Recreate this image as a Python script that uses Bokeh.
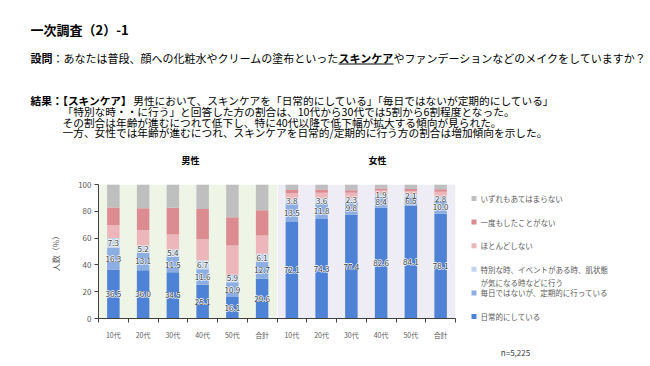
import numpy as np
from bokeh.plotting import figure
from bokeh.models import Range1d, FixedTicker, BoxAnnotation, ColumnDataSource
from bokeh.layouts import column, row
from bokeh.embed import file_html
from bokeh.resources import INLINE
from bokeh.core.properties import value

FONT = "Noto Sans CJK JP"

# ---------------- data ----------------
title_text = "一次調査（2）-1"
question_label = "設問"
question_a = "：あなたは普段、顔への化粧水やクリームの塗布といった"
question_b = "スキンケア"
question_c = "やファンデーションなどのメイクをしていますか？"
result_head = "結果：【スキンケア】"
result_lines = [
    "男性において、スキンケアを「日常的にしている」「毎日ではないが定期的にしている」",
    "「特別な時・・に行う」と回答した方の割合は、10代から30代では5割から6割程度となった。",
    "その割合は年齢が進むにつれて低下し、特に40代以降で低下幅が拡大する傾向が見られた。",
    "一方、女性では年齢が進むにつれ、スキンケアを日常的/定期的に行う方の割合は増加傾向を示した。",
]
groups = ["男性", "女性"]
categories = ["10代", "20代", "30代", "40代", "50代", "合計"]
series_names = [
    "日常的にしている",
    "毎日ではないが、定期的に行っている",
    "特別な時、イベントがある時、肌状態が気になる時などに行う",
    "ほとんどしない",
    "一度もしたことがない",
    "いずれもあてはまらない",
]
n_text = "n=5,225"

daily_m   = [36.5, 36.0, 34.5, 25.1, 16.1, 29.6]
regular_m = [16.3, 13.1, 11.5, 11.6, 10.9, 12.7]
special_m = [7.3, 5.2, 5.4, 6.7, 5.9, 6.1]
rarely_m  = [9.6, 11.6, 11.3, 15.8, 21.6, 13.5]
never_m   = [13.2, 16.4, 19.9, 22.6, 21.0, 18.8]
none_m    = [17.1, 17.7, 17.4, 18.2, 24.5, 19.3]

daily_f   = [72.1, 74.3, 77.4, 82.6, 84.1, 78.1]
regular_f = [13.5, 11.8, 9.8, 8.4, 6.5, 10.0]
special_f = [3.8, 3.6, 2.3, 1.9, 2.1, 2.8]
rarely_f  = [4.0, 4.2, 4.4, 2.6, 2.5, 3.6]
never_f   = [2.5, 2.3, 1.8, 1.5, 1.4, 1.9]
none_f    = [4.1, 3.8, 4.3, 3.0, 3.4, 3.6]

colors = ["#4D82D6", "#8DAEE2", "#C4D5EF", "#EDB6BA", "#DC8C91", "#BFBFBF"]
bg_colors = ["#EEF5E6", "#EEEDF5"]

# ---------------- text block ----------------
t = figure(width=650, height=173, x_range=Range1d(0, 650), y_range=Range1d(173, 0),
           x_axis_type=None, y_axis_type=None, output_backend="svg",
           toolbar_location=None, min_border=0)
t.outline_line_color = None
t.frame_align = False


def put(fig, x, y, txt, size, bold=False, color="#000000", align="left", baseline="middle"):
    fig.text(x=[x], y=[y], text=[txt], text_font=value(FONT),
             text_font_size=f"{size}px", text_font_style="bold" if bold else "normal",
             text_color=color, text_align=align, text_baseline=baseline)


put(t, 30, 29, title_text, 13, bold=True)
em_q = 11
qx0 = 30
qx1 = qx0 + len(question_label) * em_q
qx2 = qx1 + len(question_a) * em_q
qx3 = qx2 + len(question_b) * em_q
put(t, qx0, 57, question_label, em_q, bold=True)
put(t, qx1, 57, question_a, em_q)
put(t, qx2, 57, question_b, em_q, bold=True)
put(t, qx3, 57, question_c, em_q)
t.segment(x0=[qx2], y0=[63.5], x1=[qx3], y1=[63.5], line_color="#000000", line_width=1)

em_r = 10.7
put(t, 30, 100, result_head, em_r, bold=True)
put(t, 30 + 9.6 * em_r, 100, result_lines[0], em_r)
for i, ln in enumerate(result_lines[1:]):
    put(t, 62, 111 + i * 10.6, ln, em_r)

put(t, 190, 160, groups[0], 9, bold=True, align="center")
put(t, 377, 160, groups[1], 9, bold=True, align="center")

# ---------------- chart ----------------
m_series = [daily_m, regular_m, special_m, rarely_m, never_m, none_m]
f_series = [daily_f, regular_f, special_f, rarely_f, never_f, none_f]
keys = [f"s{i}" for i in range(6)]
xs = np.arange(len(categories) * 2)
data = {"x": xs}
for k, ms, fs in zip(keys, m_series, f_series):
    data[k] = np.array(ms + fs)
src = ColumnDataSource(data)

p = figure(width=468, height=193, x_range=Range1d(-0.5, 11.5), y_range=Range1d(0, 100),
           output_backend="svg", toolbar_location=None,
           min_border_left=98, min_border_right=13, min_border_top=11, min_border_bottom=48)
p.outline_line_color = None
p.frame_align = False
p.xgrid.visible = False
p.ygrid.visible = False

p.add_layout(BoxAnnotation(left=-0.5, right=5.5, fill_color=bg_colors[0], fill_alpha=1,
                           line_color=None, level="underlay"))
p.add_layout(BoxAnnotation(left=5.52, right=11.5, fill_color=bg_colors[1], fill_alpha=1,
                           line_color=None, level="underlay"))

p.vbar_stack(keys, x="x", width=0.42, fill_color=colors, line_color=None, source=src)

# data labels for the three blue series, centred in segments
cum = np.zeros(len(xs))
lx, ly, lt = [], [], []
for k in keys[:3]:
    v = data[k]
    ly.extend(list(cum + v / 2))
    lx.extend(list(xs))
    lt.extend([f"{a:.1f}" for a in v])
    cum = cum + v
lab_src = ColumnDataSource(dict(x=lx, y=ly, text=lt))
for dx, dy in [(-0.8, 0), (0.8, 0), (0, -0.8), (0, 0.8)]:
    p.text(x="x", y="y", text="text", source=lab_src, text_align="center",
           text_baseline="middle", text_font_size="8px", text_color="white",
           text_font=value(FONT), x_offset=dx, y_offset=dy)
p.text(x="x", y="y", text="text", source=lab_src, text_align="center", text_baseline="middle",
       text_font_size="8px", text_color="#3A3A3A", text_font=value(FONT))

p.yaxis.ticker = FixedTicker(ticks=[0, 20, 40, 60, 80, 100])
p.yaxis.major_tick_out = 4
p.yaxis.major_tick_in = 0
p.yaxis.minor_tick_out = 0
p.yaxis.minor_tick_in = 0
p.yaxis.axis_line_color = "#404040"
p.yaxis.major_tick_line_color = "#404040"
p.yaxis.major_label_text_font_size = "8px"
p.yaxis.major_label_text_color = "#595959"
p.yaxis.major_label_text_font = FONT
p.yaxis.major_label_standoff = 3
p.yaxis.axis_label = "人数（%）"
p.yaxis.axis_label_text_font_size = "8px"
p.yaxis.axis_label_text_font_style = "normal"
p.yaxis.axis_label_text_color = "#595959"
p.yaxis.axis_label_text_font = FONT
p.yaxis.axis_label_standoff = 14

p.xaxis.ticker = FixedTicker(ticks=list(range(12)), minor_ticks=[i - 0.5 for i in range(13)])
p.xaxis.major_label_overrides = {i: lab for i, lab in enumerate(categories * 2)}
p.xaxis.major_tick_out = 0
p.xaxis.major_tick_in = 0
p.xaxis.minor_tick_out = 4
p.xaxis.minor_tick_in = 0
p.xaxis.minor_tick_line_color = "#404040"
p.xaxis.axis_line_color = "#404040"
p.xaxis.major_label_text_font_size = "7px"
p.xaxis.major_label_text_color = "#595959"
p.xaxis.major_label_text_font = FONT
p.xaxis.major_label_standoff = 7

# ---------------- legend ----------------
lg = figure(width=182, height=193, x_range=Range1d(468, 650), y_range=Range1d(366, 173),
            x_axis_type=None, y_axis_type=None, output_backend="svg",
            toolbar_location=None, min_border=0)
lg.outline_line_color = None
lg.frame_align = False
order = list(range(5, -1, -1))
ly0, lstep = 198, 23.6
lys = [ly0 + j * lstep for j in range(6)]
lg.scatter(x=[473.5] * 6, y=lys, marker="square", size=5,
           fill_color=[colors[i] for i in order], line_color=None)
wrap = 17
tx, ty, tt = [], [], []
for yy, i in zip(lys, order):
    name = series_names[i]
    parts = [name[j:j + wrap] for j in range(0, len(name), wrap)]
    for li, part in enumerate(parts):
        tx.append(480)
        ty.append(yy + li * 13)
        tt.append(part)
lg.text(x=tx, y=ty, text=tt, text_font=value(FONT), text_font_size="7.5px",
        text_color="#595959", text_align="left", text_baseline="middle")
put(lg, 515, 352, n_text, 8, color="#404040", align="center")

layout = column(t, row(p, lg))
open("out.html", "w").write(file_html(layout, INLINE))
